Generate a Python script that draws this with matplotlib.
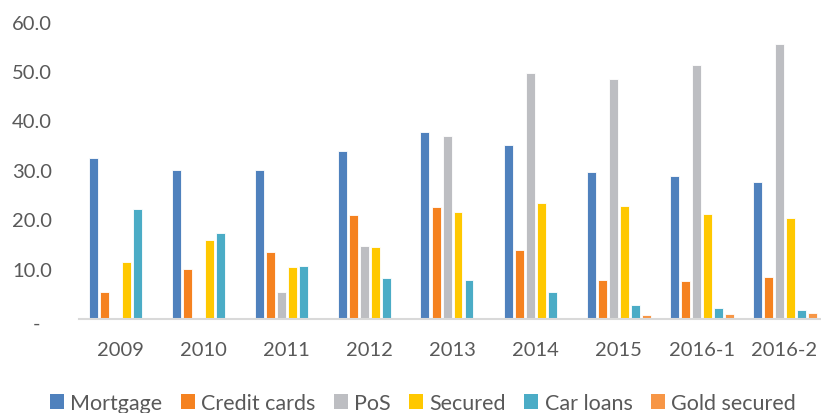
import matplotlib
matplotlib.use("Agg")
import matplotlib.pyplot as plt
import matplotlib.transforms as mtransforms
import numpy as np

plt.rcParams['font.family'] = ['Lato', 'DejaVu Sans']

categories = ["2009", "2010", "2011", "2012", "2013", "2014", "2015", "2016-1", "2016-2"]
series_names = ["Mortgage", "Credit cards", "PoS", "Secured", "Car loans", "Gold secured"]
mortgage = [32.5, 30.0, 30.1, 33.8, 37.7, 35.1, 29.6, 28.7, 27.6]
credit_cards = [5.3, 10.1, 13.4, 21.0, 22.5, 13.8, 7.8, 7.5, 8.3]
pos = [0.0, 0.0, 5.3, 14.6, 36.9, 49.6, 48.4, 51.3, 55.4]
secured = [11.4, 15.8, 10.5, 14.5, 21.5, 23.3, 22.8, 21.2, 20.4]
car_loans = [22.1, 17.2, 10.6, 8.2, 7.8, 5.4, 2.7, 2.1, 1.7]
gold_secured = [0.0, 0.0, 0.0, 0.0, 0.0, 0.0, 0.7, 0.9, 1.2]
yticks = [0, 10, 20, 30, 40, 50, 60]
ytick_labels = ["-", "10.0", "20.0", "30.0", "40.0", "50.0", "60.0"]

colors = ["#4F81BD", "#F58220", "#BDBEC2", "#FFC800", "#4BACC6", "#F79646"]
series = [mortgage, credit_cards, pos, secured, car_loans, gold_secured]

W, H = 821, 414
fig = plt.figure(figsize=(W / 100, H / 100), dpi=100)
ax = fig.add_axes([79 / W, (H - 319.5) / H, 747 / W, 297 / H])

x = np.arange(len(categories))
step = 11 / 83
width = 9 / 83
for i, (vals, c, name) in enumerate(zip(series, colors, series_names)):
    ax.bar(x + (i - 2.5) * step, vals, width=width, color=c, label=name,
           edgecolor="white", linewidth=0.6, zorder=2)

ax.set_xlim(-0.5, len(categories) - 0.5)
ax.set_ylim(0, 60)
ax.set_yticks(yticks)
ax.set_yticklabels(ytick_labels)
ax.set_xticks(x)
ax.set_xticklabels(categories)

for s in ["top", "right", "left"]:
    ax.spines[s].set_visible(False)
ax.spines["bottom"].set_color("#D9D9D9")
ax.spines["bottom"].set_linewidth(1.5)
ax.spines["bottom"].set_zorder(3)

ax.tick_params(axis="both", length=0, labelsize=14.5, labelcolor="#595959")
ax.tick_params(axis="y", pad=19.5)
ax.tick_params(axis="x", pad=16)

# shift the zero "-" label left, as in accounting format
zl = ax.get_yticklabels()[0]
zl.set_transform(zl.get_transform() + mtransforms.ScaledTranslation(-12 / 100, -3 / 100, fig.dpi_scale_trans))

leg = fig.legend(loc="center", bbox_to_anchor=(423 / W, (H - 404) / H), ncol=6,
                 frameon=False, fontsize=15.5, handlelength=0.65, handleheight=0.65,
                 handletextpad=0.3, columnspacing=0.85, borderaxespad=0)
for t in leg.get_texts():
    t.set_color("#595959")
for p in leg.get_patches():
    p.set_edgecolor("none")

fig.savefig("out.png", dpi=100)
